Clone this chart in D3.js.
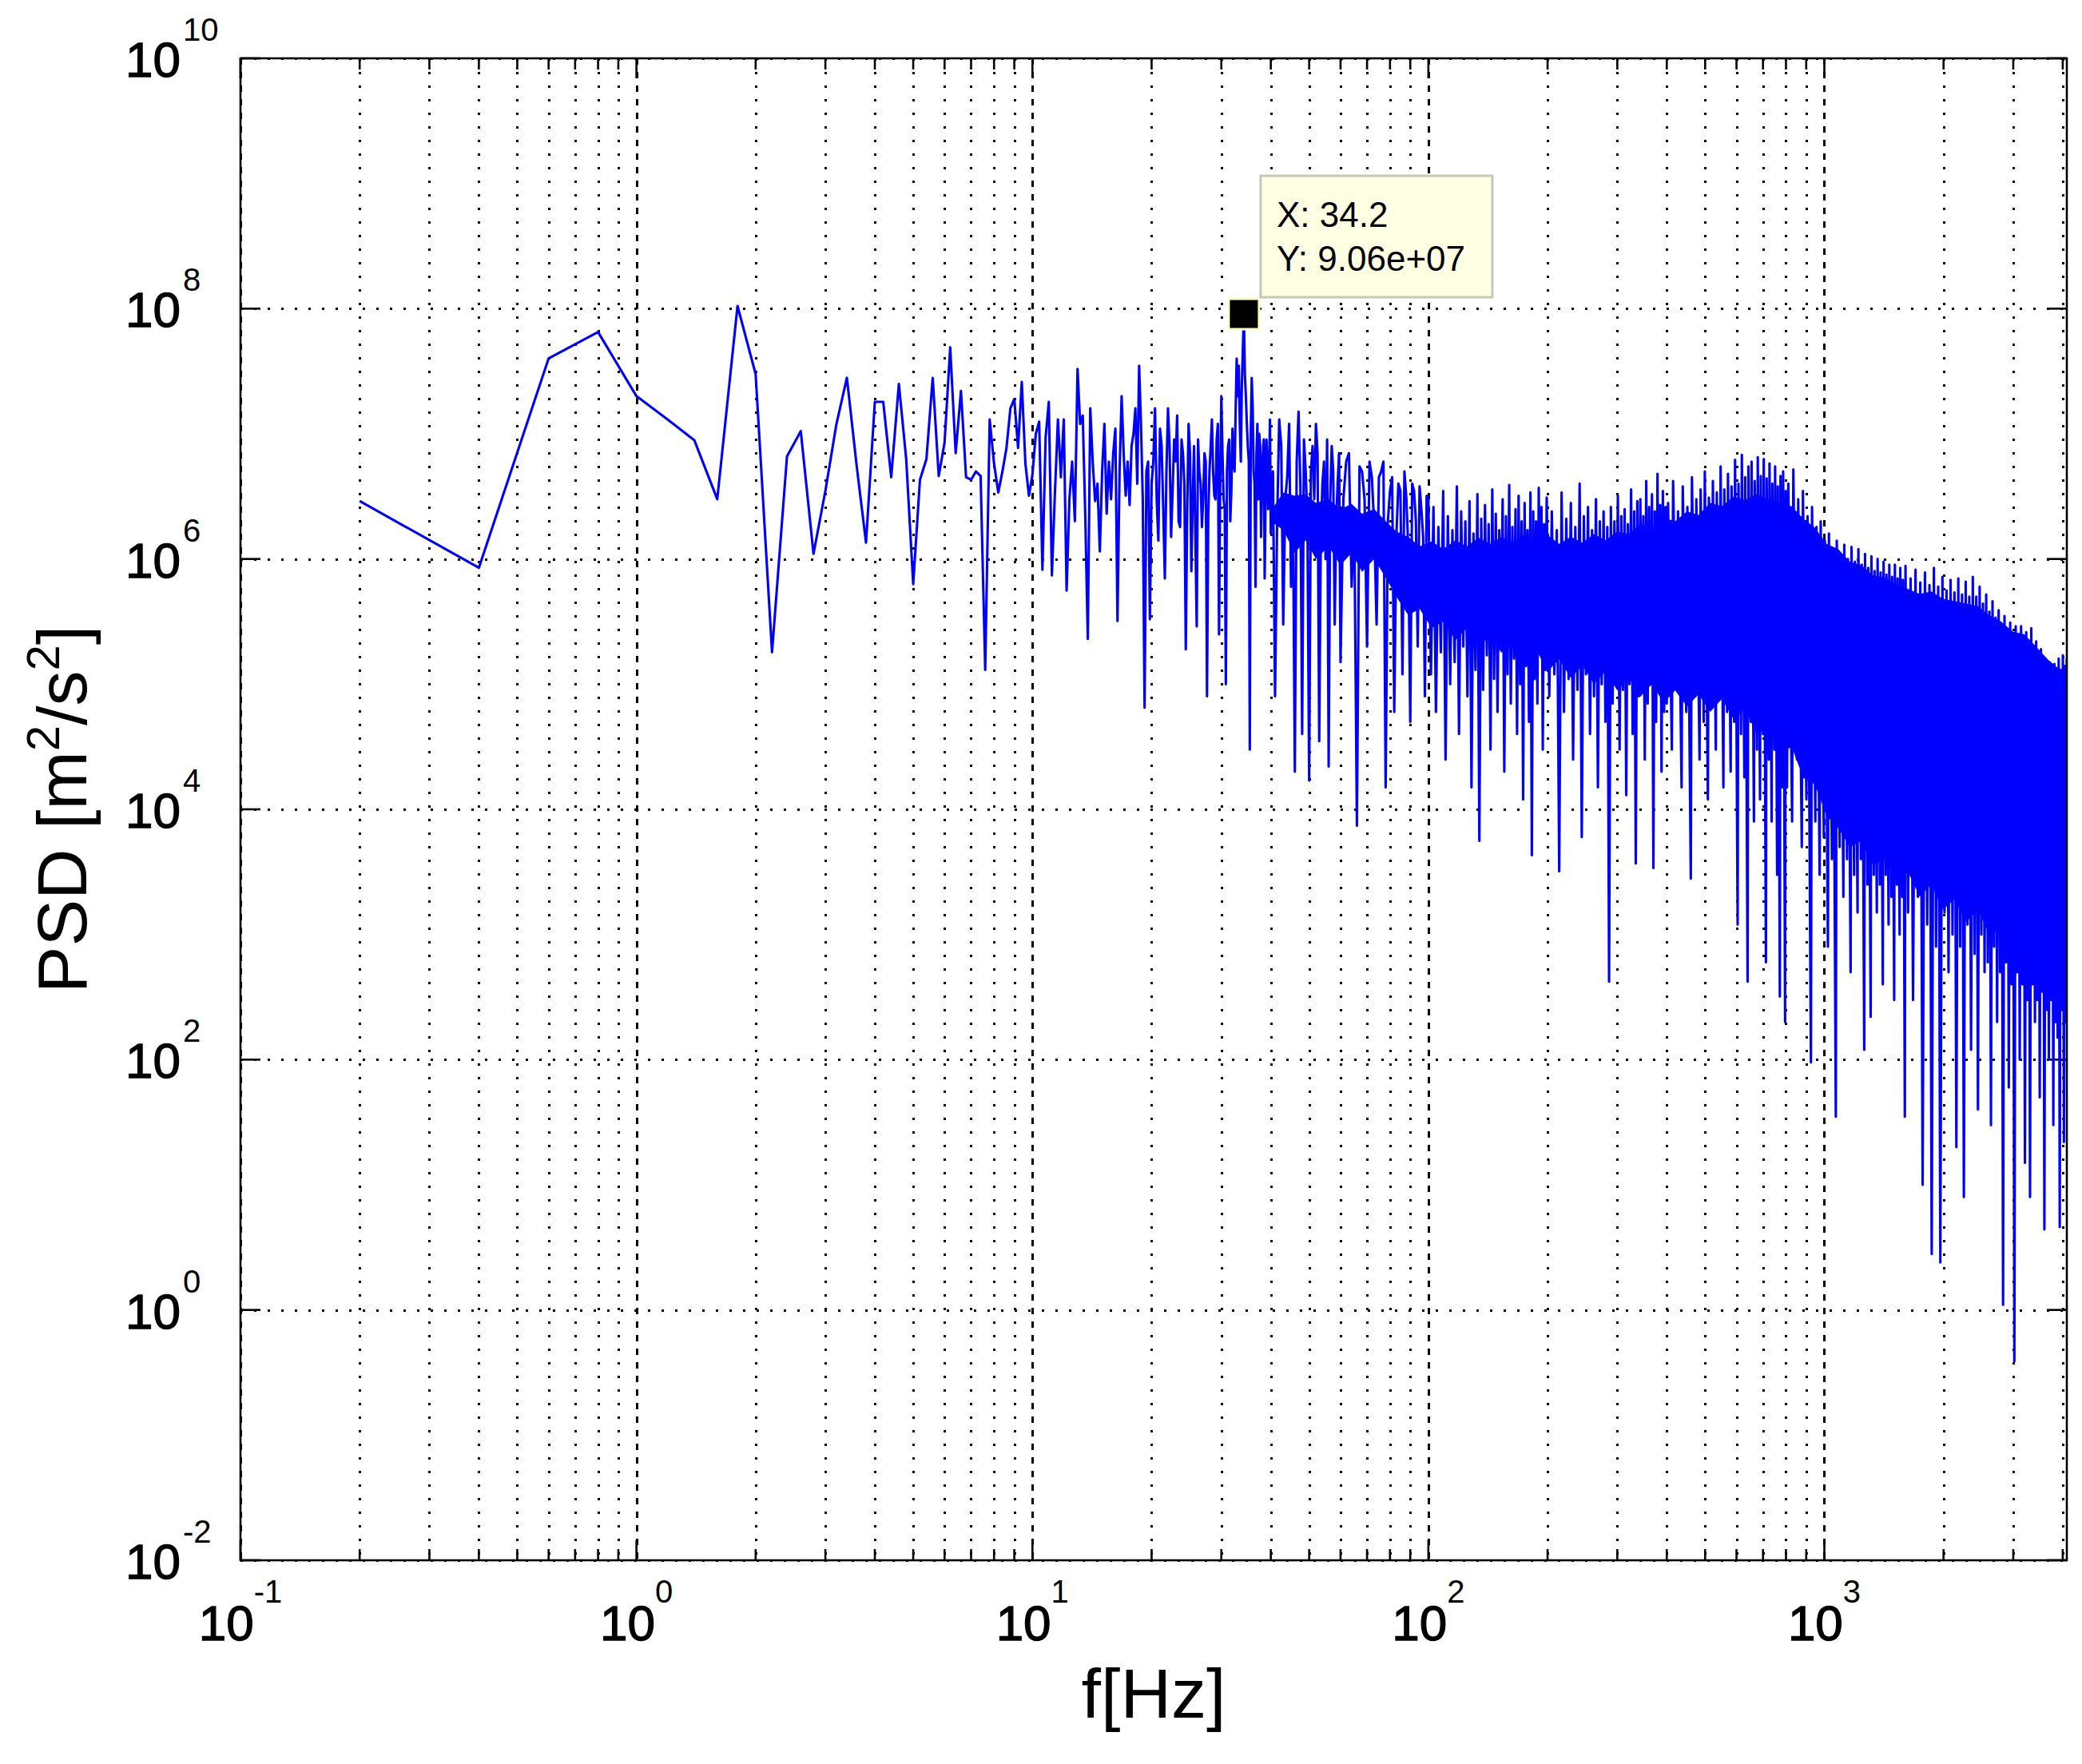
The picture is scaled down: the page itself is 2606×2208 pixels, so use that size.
<!DOCTYPE html>
<html><head><meta charset="utf-8">
<script src="https://cdn.jsdelivr.net/npm/d3@7"></script>
<style>
html,body{margin:0;padding:0;background:#fff;}
svg{display:block;}
text{font-family:"Liberation Sans",Arial,Helvetica,sans-serif;fill:#000;}
</style></head><body>
<svg id="chart" width="2606" height="2208"></svg>
<script>
// ---------------- DATA ----------------
// 0.2 – 11.6 Hz
const freqA = [0.2,0.4,0.6,0.8,1.0,1.2,1.4,1.6,1.8,2.0,2.2,2.4,2.6,2.8,3.0,3.2,3.4,3.6,3.8,4.0,4.2,4.4,4.6,4.8,5.0,5.2,5.4,5.6,5.8,6.0,6.2,6.4,6.6,6.8,7.0,7.2,7.4,7.6,7.8,8.0,8.2,8.4,8.6,8.8,9.0,9.2,9.4,9.6,9.8,10.0,10.2,10.4,10.6,10.8,11.0,11.2,11.4,11.6];
const psdA  = [2.9e6,8.5e5,4.0e7,6.5e7,2.0e7,1.3e7,8.9e6,3.0e6,1.05e8,3.0e7,1.8e5,6.6e6,1.05e7,1.1e6,3.5e6,1.2e7,2.8e7,5.5e6,1.35e6,1.8e7,1.8e7,4.5e6,2.5e7,6.3e6,6.3e5,4.3e6,6.3e6,2.8e7,4.6e6,8.5e6,4.9e7,7.0e6,2.2e7,4.5e6,4.3e6,5.0e6,4.6e6,1.3e5,1.3e7,5.8e6,3.4e6,5.0e6,7.7e6,1.6e7,1.9e7,7.7e6,2.6e7,5.8e6,3.2e6,4.7e6,1.0e7,1.25e7,8.2e5,9.4e6,1.8e7,7.4e5,3.4e6,1.3e7];
// 11.8 – 20 Hz
const freqB = [11.8,12.0,12.2,12.4,12.6,12.8,13.0,13.2,13.4,13.6,13.8,14.0,14.2,14.4,14.6,14.8,15.0,15.2,15.4,15.6,15.8,16.0,16.2,16.4,16.6,16.8,17.0,17.2,17.4,17.6,17.8,18.0,18.2,18.4,18.6,18.8,19.0,19.2,19.4,19.6,19.8,20.0];
const psdB  = [4.5e6,1.3e7,5.6e5,3.0e6,6.0e6,2.0e6,3.3e7,1.2e7,1.4e7,2.2e6,2.3e5,1.6e7,6.0e6,2.9e6,4.0e6,1.15e6,5.0e6,1.2e7,2.3e6,6.0e6,3.0e6,7.0e6,1.1e7,3.2e5,5.0e6,2.0e7,7.0e6,3.2e6,6.0e6,2.7e6,8.0e6,1.0e7,1.6e7,4.0e6,3.5e7,1.2e7,3.0e6,6.5e4,5.0e6,6.0e6,3.3e5,4.0e6];
// 20.2 – 39.8 Hz (peak marked by the data tip at 34.2 Hz)
const freqC = [20.4,20.8,21.2,21.6,22.0,22.4,22.8,23.2,23.6,24.0,24.4,24.8,25.2,25.6,26.0,26.4,26.8,27.2,27.6,28.0,28.4,28.8,29.2,29.6,30.0,30.4,30.8,31.2,31.6,32.0,32.4,32.8,33.2,33.6,34.2,34.6,35.0,35.4,35.8,36.2,36.6,37.0,37.4,37.8,38.2,38.6,39.0,39.4,39.8];
const psdC  = [1.6e7,1.4e6,8.0e6,7.0e5,1.6e7,1.5e6,9.0e6,1.4e7,1.8e6,7.0e6,1.9e5,1.2e7,8.0e5,8.0e6,2.9e5,5.0e6,1.8e6,7.0e6,8.0e4,5.0e6,1.3e7,3.2e6,9.0e6,2.5e5,2.0e7,3.0e6,1.0e5,8.0e6,2.0e6,1.1e7,5.0e6,4.0e7,3.5e7,6.0e6,9.06e7,2.0e7,8.0e6,3.0e4,2.8e7,5.0e6,6.0e5,1.2e7,1.0e7,1.5e6,7.0e6,7.0e5,9.0e6,2.5e6,1.3e7];
const freqC2 = [20.2,20.6,21.0,21.4,21.8,22.2,22.6,23.0,23.4,23.8,24.2,24.6,25.0,25.4,25.8,26.2,26.6,27.0,27.4,27.8,28.2,28.6,29.0,29.4,29.8,30.2,30.6,31.0,31.4,31.8,32.2,32.6,33.0,33.4,33.8,34.4,34.8,35.2,35.6,36.0,36.4,36.8,37.2,37.6,38.0,38.4,38.8,39.2,39.6];
const psdC2  = [6e6,3e6,1.1e7,2.5e6,5e6,8e6,3.5e6,6e6,2e6,9e6,4e6,2.5e6,7e6,3e6,1.5e6,9e6,4e6,3e6,6e6,2.2e6,8e6,5e6,3e6,1.2e7,4e6,7e6,2.5e6,5e6,9e6,3.5e6,6e6,1.5e7,2e7,1.2e7,2.5e7,3e7,1.2e7,6e6,1e7,1.6e7,4e6,7e6,3e6,8e6,4e6,9e6,3e6,6e6,4.5e6];
// 40 – 100 Hz
const freqD = [40,41,42,43,44,45,46,47,48,49,50,51,52,53,54,55,56,57,58,59,60,62,64,66,68,70,72,74,76,78,80,82,84,86,88,90,92,94,96,98,100];
const psdD  = [1.6e6,8.0e4,1.3e7,3.0e5,4.5e6,6.0e5,2.0e4,1.5e7,4.0e4,5.0e6,1.7e4,8.0e6,1.2e7,3.5e4,4.0e6,1.0e6,2.2e4,8.0e6,3.0e5,4.0e6,1.5e5,6.0e6,6.0e5,7.4e3,5.0e6,2.0e5,4.5e6,3.0e5,5.0e6,1.5e4,3.5e6,6.0e4,4.0e6,1.2e5,3.0e6,5.0e4,3.5e6,2.0e5,2.5e6,8.0e4,3.0e6];
const freqD2 = [40.5,41.5,42.5,43.5,44.5,45.5,46.5,47.5,48.5,49.5,50.5,51.5,52.5,53.5,54.5,55.5,56.5,57.5,58.5,59.5,61,63,65,67,69,71,73,75,77,79,81,83,85,87,89,91,93,95,97,99];
const psdD2  = [5e6,2e6,8e6,3e6,1.2e7,2.5e6,6e6,4e6,9e6,2e6,5e6,3e6,7e6,1.5e6,6e6,9e6,3e6,5e6,2e6,7e6,3e6,7e6,2e6,5.5e6,3e6,6e6,1.8e6,4.5e6,6e6,2e6,4.5e6,1.5e6,3.5e6,5e6,1.2e6,4e6,2e6,3.8e6,1.5e6,3.2e6];
// 100 – 200 Hz: upward spike tips and downward spike tips
const freqE  = [103,106,109,112,115,118,121,124,127,130,133,136,139,142,145,148,151,154,157,160,163,166,169,172,175,178,181,184,187,190,193,196,199];
const psdE   = [2.6e6,1.8e6,3.5e6,2.2e6,1.7e6,3.8e6,2.4e6,2.0e6,2.9e6,1.6e6,3.3e6,2.1e6,2.7e6,1.9e6,3.6e6,2.3e6,1.7e6,3.0e6,2.2e6,3.9e6,1.8e6,2.5e6,3.2e6,2.0e6,2.8e6,1.7e6,3.4e6,2.4e6,2.0e6,3.7e6,2.6e6,1.9e6,3.1e6];
const freqE2 = [101.5,104.5,107.5,110.5,113.5,116.5,119.5,122.5,125.5,128.5,131.5,134.5,137.5,140.5,143.5,146.5,149.5,152.5,155.5,158.5,161.5,164.5,167.5,170.5,173.5,176.5,179.5,182.5,185.5,188.5,191.5,194.5,197.5];
const psdE2  = [1.2e5,6e4,1.8e5,2.5e4,1.0e5,1.5e5,4e4,2.0e5,8e4,1.5e4,1.3e5,5.6e3,9e4,1.7e5,3e4,1.1e5,6e4,1.9e5,2e4,1.2e5,7e4,1.6e5,4e4,1.0e5,1.2e4,1.4e5,5e4,4.3e3,1.1e5,7e4,1.8e5,3e4,1.3e5];
// 200 – 400 Hz
const freqF  = [205,211,217,223,229,235,241,247,253,259,265,271,277,283,289,295,301,307,313,319,325,331,337,343,349,355,361,367,373,379,385,391,397];
const psdF   = [2.4e6,1.7e6,3.4e6,2.1e6,2.8e6,1.8e6,4.0e6,2.2e6,2.6e6,1.7e6,3.0e6,2.0e6,2.4e6,1.8e6,2.6e6,2.0e6,3.2e6,2.2e6,2.5e6,1.9e6,3.6e6,2.4e6,2.9e6,3.0e6,2.2e6,4.2e6,2.6e6,3.3e6,2.4e6,4.8e6,2.7e6,3.5e6,2.6e6];
const freqF2 = [202,208,214,220,226,232,238,244,250,256,262,268,274,280,286,292,298,304,310,316,322,328,334,340,346,352,358,364,370,376,382,388,394];
const psdF2  = [8e4,1.2e5,3.2e3,6e4,1.1e5,2.5e4,9e4,6e3,1.2e5,4e4,8e4,1.5e4,1.0e5,5e4,4.2e2,7e4,1.1e5,3e4,9e4,1.3e4,1.0e5,4e4,3.7e3,8e4,1.2e5,2.5e4,7e4,1.0e5,3.4e3,5e4,9e4,2e4,6e4];
// 400 – 800 Hz
const freqG  = [403,415,427,439,451,463,475,487,499,511,523,535,547,559,571,583,595,607,619,631,643,655,667,679,691,703,715,727,739,751,763,775,787,799];
const psdG   = [2.8e6,4.2e6,2.4e6,3.8e6,2.6e6,4.5e6,3.0e6,3.6e6,5.0e6,3.1e6,4.2e6,3.4e6,5.5e6,3.6e6,4.8e6,3.8e6,6.2e6,4.0e6,6.8e6,4.5e6,5.5e6,6.0e6,4.2e6,6.5e6,4.6e6,6.3e6,4.4e6,5.8e6,4.0e6,5.5e6,3.8e6,4.6e6,5.0e6,3.5e6];
const freqG2 = [400,412,424,436,448,460,472,484,496,508,520,532,544,556,568,580,592,604,616,628,640,652,664,676,688,700,712,724,736,748,760,772,784,796];
const psdG2  = [7e4,3e4,9e4,1.5e4,6e4,2.8e3,8e4,2.5e4,5e4,1.2e4,7e4,3e4,8e4,1.5e4,6e4,2e4,5e4,1.2e3,4e4,1.8e4,4.2e2,5e4,8e3,3e4,1.2e4,4e4,6e2,2.5e4,8e3,3e4,3e3,3.2e2,1.5e4,2e2];
// 800 – 1600 Hz
const freqH  = [811,835,859,883,907,931,955,979,1003,1027,1051,1075,1099,1123,1147,1171,1195,1219,1243,1267,1291,1315,1339,1363,1387,1411,1435,1459,1483,1507,1531,1555,1579,1603];
const psdH   = [4.0e6,5.2e6,3.0e6,3.5e6,2.2e6,2.6e6,1.8e6,2.0e6,1.4e6,1.6e6,1.2e6,1.4e6,1.05e6,1.3e6,1.0e6,1.25e6,9.5e5,1.2e6,9e5,1.1e6,8.5e5,1.05e6,8e5,1.0e6,7.8e5,9.5e5,7.5e5,9e5,7.2e5,9e5,7e5,8.5e5,6.8e5,8.8e5];
const freqH2 = [805,829,853,877,901,925,949,973,997,1021,1045,1069,1093,1117,1141,1165,1189,1213,1237,1261,1285,1309,1333,1357,1381,1405,1429,1453,1477,1501,1525,1549,1573,1597];
const psdH2  = [1.5e4,8e3,2.5e4,5e3,1.2e4,95,8e3,3e3,6e3,8e2,4e3,35,5e3,2e3,4e3,5e2,3e3,1.5e3,4e3,1.2e2,2.5e3,2.2e2,3e3,1.5e3,2.5e3,4e2,3e3,1.2e3,2e3,3e2,2.5e3,1e3,2e3,35];
// 1600 – 4096 Hz
const freqI  = [1651,1699,1747,1795,1843,1891,1939,1987,2035,2083,2131,2179,2227,2275,2323,2371,2419,2467,2515,2563,2611,2659,2707,2755,2803,2851,2899,2947,2995,3043,3091,3139,3187,3235,3283,3331,3379,3427,3475,3523,3571,3619,3667,3715,3763,3811,3859,3907,3955,4003,4051,4096];
const psdI   = [7.0e5,8.2e5,6.5e5,7.8e5,6.2e5,8.5e5,6.0e5,7.2e5,5.6e5,6.8e5,5.4e5,7.0e5,5.2e5,6.6e5,5.0e5,7.2e5,5.0e5,6.0e5,4.4e5,5.2e5,3.8e5,4.6e5,3.4e5,3.9e5,3.0e5,3.5e5,2.6e5,3.1e5,2.4e5,2.9e5,2.3e5,2.9e5,2.1e5,2.6e5,2.0e5,2.8e5,1.8e5,2.2e5,1.5e5,1.9e5,1.3e5,1.6e5,1.2e5,1.35e5,1.15e5,1.45e5,1.2e5,1.6e5,1.3e5,1.7e5,1.4e5,1.6e5];
const freqI2 = [1627,1675,1723,1771,1819,1867,1915,1963,2011,2059,2107,2155,2203,2251,2299,2347,2395,2443,2491,2539,2587,2635,2683,2731,2779,2827,2875,2923,2971,3019,3067,3115,3163,3211,3259,3307,3355,3403,3451,3499,3547,3595,3643,3691,3739,3787,3835,3883,3931,3979,4027,4075];
const psdI2  = [1.5e3,3e2,2e3,10,1.2e3,2.8,8e2,2.4,1.5e3,5e2,1e3,20,8e2,8,1.2e3,1.2e2,7e2,40,1e3,5e2,6e2,30,8e2,2e2,5e2,1.1,6e2,60,4e2,0.39,5e2,1e2,4e2,15,3e2,8,4e2,2e2,3e2,50,3.5e2,4.4,2.5e2,1e2,3e2,30,2e2,1.5e2,4.6,2.5e2,22,2e2];

// ragged upper / lower edge of the fully filled part of the noise band
const coreFreq   = [40,43,46,49,52,56,60,64,68,73,78,83,89,95,102,109,117,125,134,143,153,164,175,187,200,214,229,245,262,280,300,321,343,367,393,420,450,481,515,551,590,631,675,722,773,827,885,947,1013,1084,1160,1241,1328,1421,1520,1627,1741,1862,1993,2132,2282,2441,2612,2795,2991,3200,3424,3664,3920,4096];
const coreTop    = [2.4e6,3.4e6,3.2e6,3.3e6,2.8e6,3.0e6,2.5e6,2.75e6,2.3e6,2.5e6,2.0e6,1.66e6,1.5e6,1.26e6,1.38e6,1.2e6,1.41e6,1.26e6,1.48e6,1.32e6,1.5e6,1.35e6,1.58e6,1.38e6,1.55e6,1.32e6,1.5e6,1.35e6,1.58e6,1.41e6,1.66e6,1.58e6,1.9e6,1.78e6,2.14e6,2.0e6,2.4e6,2.24e6,2.8e6,2.63e6,3.16e6,2.95e6,3.3e6,3.0e6,2.8e6,2.63e6,2.1e6,1.78e6,1.32e6,1.2e6,9.5e5,8.9e5,7.4e5,7.1e5,6.3e5,5.75e5,5.25e5,5.5e5,4.8e5,4.6e5,4.4e5,4.2e5,3.55e5,3.16e5,2.63e5,2.5e5,2.0e5,1.58e5,1.32e5,1.2e5];
const coreBottom = [2.0e6,1.7e6,1.12e6,1.41e6,1.0e6,1.26e6,8.9e5,1.12e6,7.9e5,1.0e6,7.1e5,5.0e5,3.55e5,4.0e5,2.8e5,3.16e5,2.24e5,2.8e5,2.0e5,2.4e5,1.78e5,2.1e5,1.5e5,1.9e5,1.26e5,1.58e5,1.12e5,1.41e5,1.0e5,1.26e5,8.9e4,1.12e5,7.9e4,1.0e5,7.1e4,8.9e4,6.6e4,8.3e4,6.0e4,7.6e4,5.25e4,6.3e4,4.0e4,4.5e4,2.8e4,3.16e4,1.78e4,1.58e4,8.9e3,7.1e3,5.0e3,5.6e3,3.55e3,4.0e3,2.8e3,3.16e3,2.0e3,2.5e3,1.58e3,1.9e3,1.26e3,1.58e3,1.0e3,1.12e3,7.1e2,8.9e2,5.6e2,6.3e2,4.0e2,5.0e2];

// axes
const xDomain = [0.1, 4096];
const yDomain = [1e-2, 1e10];
const xMajorTicks = [0.1, 1, 10, 100, 1000];
const xMajorExp   = ["-1", "0", "1", "2", "3"];
const yMajorTicks = [1e-2, 1e0, 1e2, 1e4, 1e6, 1e8, 1e10];
const yMajorExp   = ["-2", "0", "2", "4", "6", "8", "10"];

// data tip
const tipX = 34.2, tipY = 9.06e7;
const tipLines = ["X: 34.2", "Y: 9.06e+07"];
const xLabel = "f[Hz]";

// ---------------- DRAWING ----------------
const W = 2606, H = 2208;
const P = {left: 301, right: 2587, top: 73, bottom: 1953};
const blue = "#0000ff";
const svg = d3.select("#chart");
svg.append("rect").attr("width", W).attr("height", H).attr("fill", "#fff");

const x = d3.scaleLog().domain(xDomain).range([P.left, P.right]);
const y = d3.scaleLog().domain(yDomain).range([P.bottom, P.top]);

svg.append("defs").append("clipPath").attr("id", "clip")
  .append("rect").attr("x", P.left).attr("y", P.top)
  .attr("width", P.right - P.left).attr("height", P.bottom - P.top);

// grid
const grid = svg.append("g");
const allXTicks = x.ticks().filter(t => t >= xDomain[0] && t <= xDomain[1]);
const isMajor = t => xMajorTicks.some(m => Math.abs(m - t) / m < 1e-9);
grid.selectAll("line.vx").data(allXTicks).join("line")
  .attr("x1", d => Math.round(x(d)) + 0.5).attr("x2", d => Math.round(x(d)) + 0.5)
  .attr("y1", P.top).attr("y2", P.bottom)
  .attr("stroke", "#000").attr("stroke-width", 3)
  .attr("stroke-dasharray", d => isMajor(d) ? "8 9" : "3 14");
grid.selectAll("line.hy").data(yMajorTicks).join("line")
  .attr("x1", P.left).attr("x2", P.right)
  .attr("y1", d => Math.round(y(d)) + 0.5).attr("y2", d => Math.round(y(d)) + 0.5)
  .attr("stroke", "#000").attr("stroke-width", 3)
  .attr("stroke-dasharray", "3 14");

// ticks
const ticks = svg.append("g").attr("stroke", "#000").attr("stroke-width", 2.6);
const tl = 25, tlm = 14;
allXTicks.forEach(t => {
  const L = isMajor(t) ? tl : tlm, xx = x(t);
  ticks.append("line").attr("x1", xx).attr("x2", xx).attr("y1", P.bottom).attr("y2", P.bottom - L);
  ticks.append("line").attr("x1", xx).attr("x2", xx).attr("y1", P.top).attr("y2", P.top + L);
});
yMajorTicks.forEach(t => {
  const yy = y(t);
  ticks.append("line").attr("x1", P.left).attr("x2", P.left + tl).attr("y1", yy).attr("y2", yy);
  ticks.append("line").attr("x1", P.right).attr("x2", P.right - tl).attr("y1", yy).attr("y2", yy);
});

// data
const zip = (f, v) => f.slice(0, Math.min(f.length, v.length)).map((ff, i) => ({f: ff, v: v[i]}));
const series = [].concat(
  zip(freqA, psdA), zip(freqB, psdB), zip(freqC, psdC), zip(freqC2, psdC2),
  zip(freqD, psdD), zip(freqD2, psdD2), zip(freqE, psdE), zip(freqE2, psdE2),
  zip(freqF, psdF), zip(freqF2, psdF2), zip(freqG, psdG), zip(freqG2, psdG2),
  zip(freqH, psdH), zip(freqH2, psdH2), zip(freqI, psdI), zip(freqI2, psdI2)
).sort((a, b) => a.f - b.f);
const nCore = Math.min(coreFreq.length, coreTop.length, coreBottom.length);
const core = coreFreq.slice(0, nCore).map((f, i) => ({f, hi: coreTop[i], lo: coreBottom[i]}));

const plot = svg.append("g").attr("clip-path", "url(#clip)");
plot.append("path").datum(core)
  .attr("d", d3.area().x(d => x(d.f)).y0(d => y(d.lo)).y1(d => y(d.hi)))
  .attr("fill", blue);
plot.append("path").datum(series)
  .attr("d", d3.line().x(d => x(d.f)).y(d => y(d.v)))
  .attr("fill", "none").attr("stroke", blue).attr("stroke-width", 3.1)
  .attr("stroke-linejoin", "round");

// axes box
svg.append("rect").attr("x", P.left).attr("y", P.top)
  .attr("width", P.right - P.left).attr("height", P.bottom - P.top)
  .attr("fill", "none").attr("stroke", "#000").attr("stroke-width", 2.6);

// tick labels
const baseFs = 62, expFs = 40;
xMajorTicks.forEach((t, i) => {
  const tx = svg.append("text").attr("x", x(t)).attr("y", P.bottom + 100)
    .attr("text-anchor", "middle");
  tx.append("tspan").attr("font-size", baseFs).attr("stroke", "#000").attr("stroke-width", 1.3).text("10");
  tx.append("tspan").attr("font-size", expFs).attr("dy", -47).text(xMajorExp[i]);
});
yMajorTicks.forEach((t, i) => {
  const yy = y(t);
  svg.append("text").attr("x", 226).attr("y", yy + 23).attr("text-anchor", "end")
    .attr("font-size", baseFs).attr("stroke", "#000").attr("stroke-width", 1.3).text("10");
  svg.append("text").attr("x", 229).attr("y", yy - 22).attr("text-anchor", "start")
    .attr("font-size", expFs).text(yMajorExp[i]);
});

// axis titles
svg.append("text").attr("x", (P.left + P.right) / 2).attr("y", 2150)
  .attr("text-anchor", "middle").attr("font-size", 88).text(xLabel);
const yl = svg.append("text").attr("transform", `translate(108,${(P.top + P.bottom) / 2}) rotate(-90)`)
  .attr("text-anchor", "middle").attr("font-size", 88);
yl.append("tspan").text("PSD [m");
yl.append("tspan").attr("font-size", 58).attr("dy", -34).text("2");
yl.append("tspan").attr("dy", 34).text("/s");
yl.append("tspan").attr("font-size", 58).attr("dy", -34).text("2");
yl.append("tspan").attr("dy", 34).text("]");

// data tip
const mx = x(tipX), my = y(tipY), ms = 38;
svg.append("rect").attr("x", mx - ms / 2).attr("y", my - ms / 2).attr("width", ms).attr("height", ms)
  .attr("fill", "#000").attr("stroke", "#ffffc8").attr("stroke-width", 3);
const bx = mx + ms / 2 + 2, bw = 290, bh = 152, by = my - ms / 2 - 2 - bh;
svg.append("rect").attr("x", bx).attr("y", by).attr("width", bw).attr("height", bh)
  .attr("fill", "#ffffe4").attr("stroke", "#c8c8b8").attr("stroke-width", 3);
tipLines.forEach((s, i) => {
  svg.append("text").attr("x", bx + 20).attr("y", by + 64 + i * 55)
    .attr("font-size", 44).text(s);
});
</script>
</body></html>
